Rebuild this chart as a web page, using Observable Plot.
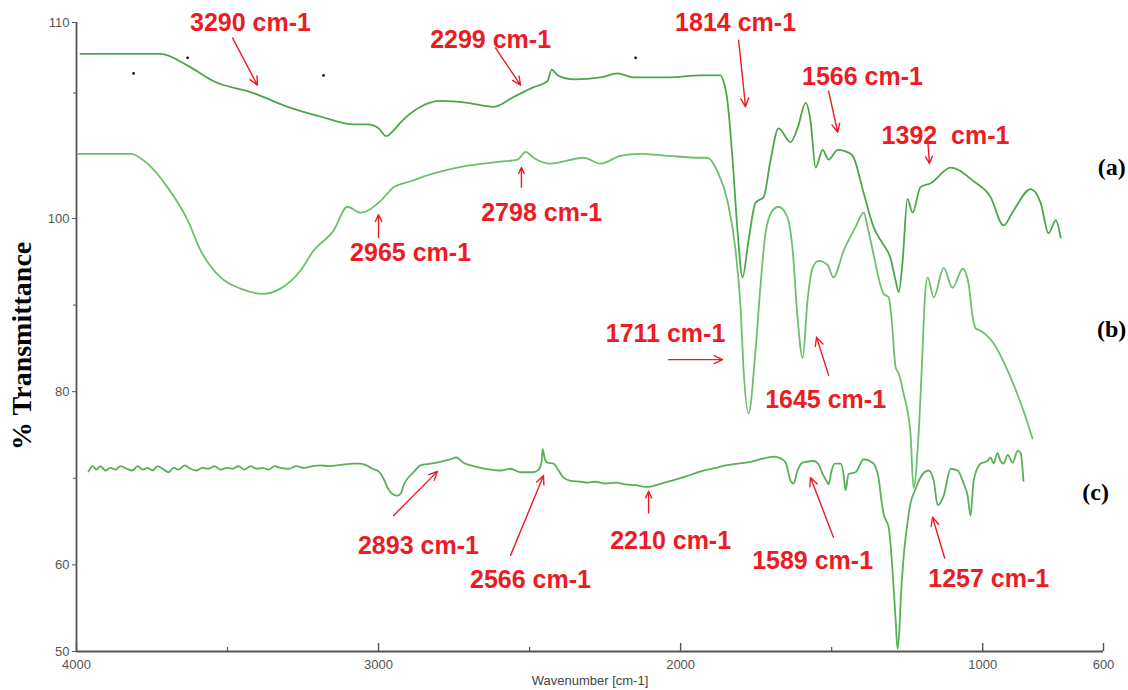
<!DOCTYPE html>
<html><head><meta charset="utf-8">
<script src="https://cdn.jsdelivr.net/npm/d3@7"></script>
<script src="https://cdn.jsdelivr.net/npm/@observablehq/plot@0.6"></script>
<style>body{margin:0;background:#fff;} #chart svg{display:block;}</style>
</head><body><div id="chart"></div>
<script>
// Wavenumber (cm-1), % Transmittance
const spectrumA = [[3987,108.4],[3722,108.4],[3632,107.8],[3546,107.0],[3414,106.4],[3301,105.7],[3192,105.2],[3083,104.8],[3036,104.8],[3000,104.6],[2974,104.2],[2950,104.5],[2927,104.9],[2861,105.7],[2795,106.0],[2705,105.9],[2619,105.7],[2553,106.2],[2487,106.7],[2441,107.0],[2427,107.6],[2407,107.3],[2354,107.1],[2265,107.2],[2209,107.4],[2156,107.2],[2090,107.2],[2043,107.2],[1934,107.3],[1868,107.3],[1858,107.0],[1845,106.0],[1828,103.0],[1811,98.3],[1795,93.2],[1775,97.5],[1752,100.8],[1725,101.1],[1702,103.0],[1676,104.6],[1636,103.9],[1613,104.6],[1586,105.9],[1570,105.0],[1553,102.6],[1530,103.5],[1510,103.0],[1480,103.5],[1437,103.3],[1427,103.1],[1394,101.3],[1361,99.0],[1331,97.1],[1305,95.4],[1288,92.8],[1278,91.5],[1265,95.1],[1249,101.0],[1232,100.3],[1206,101.6],[1172,101.8],[1106,102.6],[1030,101.9],[974,101.1],[931,99.2],[898,100.4],[841,101.5],[808,100.8],[782,98.3],[758,99.8],[742,97.8]];
const spectrumB = [[3997,103.3],[3821,103.3],[3765,102.8],[3699,101.6],[3632,99.8],[3589,96.3],[3523,93.2],[3457,91.9],[3381,91.3],[3325,91.9],[3258,94.0],[3215,96.3],[3149,98.6],[3103,100.6],[3060,100.3],[2993,100.9],[2950,101.6],[2894,101.9],[2818,102.3],[2705,102.7],[2596,102.9],[2540,103.0],[2513,103.4],[2487,103.1],[2431,102.8],[2321,103.1],[2265,102.8],[2199,103.2],[2133,103.3],[2043,103.2],[1934,103.1],[1911,103.1],[1878,102.4],[1845,100.9],[1818,96.3],[1801,89.4],[1792,82.8],[1775,77.5],[1752,84.8],[1735,92.5],[1719,98.3],[1696,100.4],[1676,100.6],[1646,100.05],[1629,96.3],[1613,88.6],[1596,83.9],[1580,90.5],[1563,94.3],[1543,95.1],[1513,94.6],[1494,93.2],[1460,96.3],[1421,99.0],[1394,100.3],[1381,99.0],[1364,96.3],[1328,91.3],[1311,90.9],[1302,88.6],[1288,82.8],[1278,82.1],[1262,79.8],[1239,75.2],[1229,68.9],[1212,75.2],[1199,84.8],[1192,90.5],[1182,93.2],[1162,90.9],[1129,94.3],[1100,92.0],[1066,94.2],[1047,92.5],[1033,88.6],[1023,87.3],[1010,87.1],[964,85.6],[907,81.6],[865,77.8],[835,74.6]];
const spectrumC = [[3960,70.8],[3947,71.4],[3934,71.0],[3921,71.4],[3904,70.9],[3887,71.2],[3871,71.0],[3854,71.4],[3834,71.1],[3815,70.9],[3798,71.4],[3781,71.0],[3765,71.2],[3748,70.9],[3732,71.4],[3715,71.1],[3695,70.7],[3679,71.2],[3662,71.0],[3642,71.5],[3623,71.1],[3603,70.9],[3583,71.2],[3563,71.1],[3543,71.4],[3523,71.0],[3503,71.2],[3483,71.1],[3464,71.4],[3444,71.0],[3424,71.4],[3404,71.1],[3384,71.2],[3364,71.0],[3344,71.4],[3325,71.2],[3298,71.1],[3272,71.4],[3245,71.2],[3219,71.4],[3192,71.5],[3166,71.4],[3139,71.5],[3113,71.6],[3086,71.7],[3060,71.7],[3040,71.5],[3020,71.1],[3000,70.8],[2984,70.0],[2970,68.9],[2954,68.2],[2937,68.0],[2924,68.4],[2917,69.2],[2901,70.1],[2884,70.7],[2861,71.5],[2828,71.7],[2795,71.9],[2762,72.2],[2742,72.4],[2719,71.8],[2695,71.5],[2662,71.2],[2629,71.0],[2596,70.9],[2563,71.1],[2530,70.7],[2487,70.7],[2470,71.0],[2460,72.0],[2457,73.4],[2450,72.3],[2441,71.8],[2421,71.7],[2404,70.9],[2388,70.1],[2364,69.7],[2331,69.6],[2308,69.5],[2282,69.6],[2248,69.4],[2215,69.5],[2182,69.3],[2149,69.2],[2109,69.0],[2073,69.3],[2033,69.7],[1984,70.2],[1924,70.9],[1884,71.2],[1851,71.5],[1811,71.7],[1768,71.9],[1735,72.2],[1692,72.5],[1669,72.3],[1652,71.8],[1636,69.7],[1626,69.4],[1613,70.9],[1596,71.8],[1560,72.0],[1543,71.6],[1530,70.5],[1517,69.7],[1510,69.3],[1500,70.9],[1490,71.7],[1470,71.7],[1460,70.3],[1454,68.6],[1444,70.5],[1421,70.7],[1394,72.2],[1364,71.8],[1345,70.1],[1335,67.4],[1328,65.9],[1311,64.3],[1302,61.1],[1295,57.4],[1288,53.6],[1282,50.3],[1275,53.0],[1272,55.5],[1262,60.8],[1252,64.0],[1239,67.1],[1222,68.8],[1206,70.1],[1179,70.9],[1162,69.7],[1149,66.9],[1129,68.0],[1106,71.1],[1083,70.9],[1063,69.4],[1050,68.0],[1040,65.7],[1030,69.7],[1007,71.7],[984,72.0],[974,72.4],[964,71.7],[951,72.9],[941,72.0],[931,71.7],[917,72.7],[901,71.8],[884,73.2],[874,72.9],[868,71.1],[865,69.7]];

const seriesNames = ["(a)", "(b)", "(c)"];
const seriesColors = ["#4ca64c", "#6dbf6d", "#58b058"];
const seriesLabelWave = [573, 573, 626];
const seriesLabelValue = [102.6, 87.2, 68.4];

// Peak annotations: label text, text position, arrow start/end
const peakLabels = ["3290 cm-1","2299 cm-1","1814 cm-1","1566 cm-1","1392  cm-1","2965 cm-1","2798 cm-1","1711 cm-1","1645 cm-1","2893 cm-1","2566 cm-1","2210 cm-1","1589 cm-1","1257 cm-1"];
const labelWave  = [3424, 2629, 1818, 1398, 1123, 2894, 2460, 2050, 1520, 2868, 2497, 2033, 1563, 980];
const labelValue = [110.0, 109.1, 110.0, 107.2, 104.2, 96.0, 100.3, 86.7, 79.0, 62.2, 58.3, 62.8, 60.4, 58.4];
const arrowWave1  = [3483, 2613, 1808, 1510, 1182, 3000, 2527, 2040, 1510, 2950, 2563, 2106, 1494, 1126];
const arrowValue1 = [109.2, 108.7, 109.1, 106.5, 104.0, 97.8, 101.6, 83.7, 81.9, 65.7, 61.1, 66.0, 63.2, 60.8];
const arrowWave2  = [3401, 2530, 1785, 1480, 1176, 3000, 2527, 1861, 1550, 2805, 2454, 2106, 1570, 1166];
const arrowValue2 = [106.8, 106.8, 105.7, 104.4, 102.8, 100.2, 102.6, 83.7, 86.3, 70.8, 70.3, 68.5, 70.1, 65.5];

// Stray instrument marks
const markWave = [3811, 3632, 3182, 2149];
const markValue = [107.4, 108.2, 107.3, 108.2];

const xDomain = [4000, 600];
const xMajorTicks = [4000, 3000, 2000, 1000, 600];
const xMinorTicks = [3500, 2500, 1500];
const yBreaks = [50, 100, 110];
const yMajorTicks = [110, 100, 80, 60, 50];
const yMinorTicks = [106.4, 90, 70];
const yTitleValue = 85.3;

const rows = [];
[spectrumA, spectrumB, spectrumC].forEach((s, i) => s.forEach(([w, t]) => rows.push({series: seriesNames[i], wave: w, value: t})));
const annotations = peakLabels.map((t, i) => ({text: t, x: labelWave[i], y: labelValue[i]}));
const arrows = peakLabels.map((t, i) => ({x1: arrowWave1[i], y1: arrowValue1[i], x2: arrowWave2[i], y2: arrowValue2[i]}));
const seriesLabels = seriesNames.map((t, i) => ({text: t, x: seriesLabelWave[i], y: seriesLabelValue[i]}));
const marks = markWave.map((w, i) => ({x: w, y: markValue[i]}));

const RED = "#ec1c24";
const AX = "#555";

const chart = Plot.plot({
  width: 1128, height: 690,
  marginLeft: 76, marginRight: 25, marginTop: 22, marginBottom: 39,
  style: {background: "#fff", fontFamily: "'Liberation Sans', Arial, sans-serif", overflow: "visible"},
  x: {domain: xDomain},
  y: {type: "linear", domain: yBreaks, range: [651, 218, 22]},
  color: {domain: seriesNames, range: seriesColors},
  marks: [
    Plot.ruleY([50], {stroke: AX, strokeWidth: 1.8}),
    Plot.ruleX([4000], {stroke: AX, strokeWidth: 1.8}),
    Plot.axisX(xMajorTicks, {tickSize: -8, tickFormat: () => "", stroke: AX, strokeWidth: 1.4, label: null}),
    Plot.axisX(xMinorTicks, {tickSize: -4, tickFormat: () => "", stroke: AX, strokeWidth: 1.2, label: null}),
    Plot.axisX(xMajorTicks, {tickSize: 0, tickPadding: 8, fontSize: 13, fill: AX, label: null, tickFormat: d => String(d)}),
    Plot.axisY(yMajorTicks, {tickSize: 4, tickPadding: 3, fontSize: 13, color: AX, label: null, tickFormat: d => String(d)}),
    Plot.axisY(yMinorTicks, {tickSize: 3, tickFormat: () => "", color: AX, label: null}),
    Plot.text(["Wavenumber [cm-1]"], {frameAnchor: "bottom", dy: 33, fontSize: 13, fill: "#444"}),
    Plot.text(["% Transmittance"], {y: () => yTitleValue, frameAnchor: "left", textAnchor: "middle", rotate: -90, dx: -54, fontSize: 28, fontWeight: "bold", fontFamily: "'Liberation Serif', 'Times New Roman', serif", fill: "#000"}),
    Plot.dot(marks, {x: "x", y: "y", r: 1.4, fill: "#111", stroke: null}),
    Plot.line(rows, {x: "wave", y: "value", z: "series", stroke: "series", strokeWidth: 1.8, curve: "monotone-x"}),
    Plot.arrow(arrows, {x1: "x1", y1: "y1", x2: "x2", y2: "y2", stroke: RED, strokeWidth: 1.4, headLength: 10, headAngle: 50}),
    Plot.text(annotations, {x: "x", y: "y", text: "text", fill: RED, fontSize: 25, fontWeight: "bold", fontFamily: "'Liberation Sans', Arial, sans-serif"}),
    Plot.text(seriesLabels, {x: "x", y: "y", text: "text", fontSize: 24, fontWeight: "bold", fontFamily: "'Liberation Serif', 'Times New Roman', serif", fill: "#000"})
  ]
});
document.getElementById("chart").appendChild(chart);
</script>
</body></html>
